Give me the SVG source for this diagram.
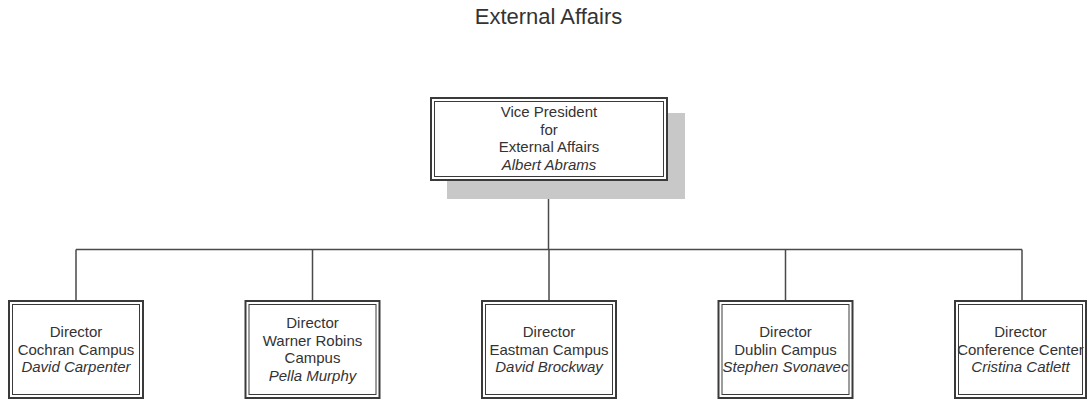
<svg xmlns="http://www.w3.org/2000/svg" width="1087" height="400" viewBox="0 0 1087 400">
<style>
.bg{fill:#ffffff}
.outer{fill:#ffffff;stroke:#3a3a3a;stroke-width:2}
.inner{fill:none;stroke:#3a3a3a;stroke-width:1}
.shadow{fill:#c8c8c8}
.conn{fill:none;stroke:#4a4a4a;stroke-width:1.5}
text{font-family:"Liberation Sans",Arial,sans-serif;font-size:15px;fill:#333333;text-anchor:middle}
.title{font-size:22px}
.name{font-style:italic}
</style>
<rect class="bg" x="0" y="0" width="1087" height="400"/>
<text class="title" x="548.5" y="24">External Affairs</text>
<g id="connectors">
<path class="conn" d="M548.5,181 V249.5"/>
<path class="conn" d="M76,249.5 H1022"/>
<path class="conn" d="M76,249.5 V300 M312.5,249.5 V300 M549,249.5 V300 M785.5,249.5 V300 M1022,249.5 V300"/>
</g>
<g id="vp">
<rect class="shadow" x="447" y="113" width="238" height="86"/>
<rect class="outer" x="431" y="98" width="236" height="82"/>
<rect class="inner" x="434.5" y="101.5" width="229" height="75"/>
<text x="549" y="117">Vice President</text>
<text x="549" y="134.5">for</text>
<text x="549" y="152">External Affairs</text>
<text class="name" x="549" y="169.5">Albert Abrams</text>
</g>
<g id="cochran">
<rect class="outer" x="9" y="301" width="134" height="97"/>
<rect class="inner" x="12.5" y="304.5" width="127" height="90"/>
<text x="76" y="337">Director</text>
<text x="76" y="354.5">Cochran Campus</text>
<text class="name" x="76" y="372">David Carpenter</text>
</g>
<g id="warner">
<rect class="outer" x="245.5" y="301" width="134" height="97"/>
<rect class="inner" x="249" y="304.5" width="127" height="90"/>
<text x="312.5" y="328">Director</text>
<text x="312.5" y="345.5">Warner Robins</text>
<text x="312.5" y="363">Campus</text>
<text class="name" x="312.5" y="380.5">Pella Murphy</text>
</g>
<g id="eastman">
<rect class="outer" x="482" y="301" width="134" height="97"/>
<rect class="inner" x="485.5" y="304.5" width="127" height="90"/>
<text x="549" y="337">Director</text>
<text x="549" y="354.5">Eastman Campus</text>
<text class="name" x="549" y="372">David Brockway</text>
</g>
<g id="dublin">
<rect class="outer" x="718.5" y="301" width="134" height="97"/>
<rect class="inner" x="722" y="304.5" width="127" height="90"/>
<text x="785.5" y="337">Director</text>
<text x="785.5" y="354.5">Dublin Campus</text>
<text class="name" x="785.5" y="372">Stephen Svonavec</text>
</g>
<g id="conference">
<rect class="outer" x="955" y="301" width="131" height="97"/>
<rect class="inner" x="958.5" y="304.5" width="124" height="90"/>
<text x="1020.5" y="337">Director</text>
<text x="1020.5" y="354.5">Conference Center</text>
<text class="name" x="1020.5" y="372">Cristina Catlett</text>
</g>
</svg>
